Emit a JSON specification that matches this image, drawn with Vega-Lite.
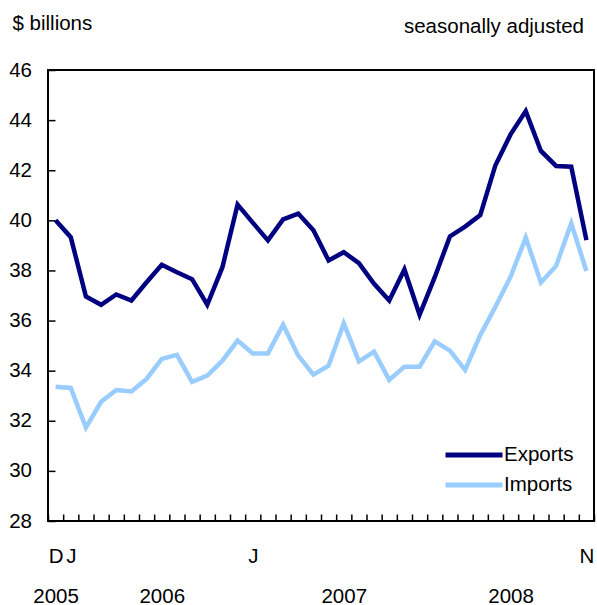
{
  "$schema": "https://vega.github.io/schema/vega-lite/v6.json",
  "autosize": "none",
  "width": 546,
  "height": 451,
  "padding": {"left": 48, "top": 70, "right": 3, "bottom": 84},
  "background": "white",
  "config": {
    "view": {"stroke": "black", "strokeWidth": 2},
    "font": "Liberation Sans",
    "axis": {"grid": false, "domain": false, "ticks": true, "tickColor": "#000000", "tickOpacity": 1, "tickRound": false, "labelColor": "black", "labelFontSize": 20.5, "labelFont": "Liberation Sans", "zindex": 1}
  },
  "title": {
    "text": "seasonally adjusted",
    "anchor": "end",
    "frame": "group",
    "dx": -10,
    "offset": -40,
    "baseline": "alphabetic",
    "fontSize": 20.5,
    "font": "Liberation Sans",
    "fontWeight": "normal",
    "color": "black"
  },
  "data": {
    "values": [
      {"month": "2005-12", "series": "Exports", "value": 40.0},
      {"month": "2006-01", "series": "Exports", "value": 39.33},
      {"month": "2006-02", "series": "Exports", "value": 36.96},
      {"month": "2006-03", "series": "Exports", "value": 36.63},
      {"month": "2006-04", "series": "Exports", "value": 37.04},
      {"month": "2006-05", "series": "Exports", "value": 36.8},
      {"month": "2006-06", "series": "Exports", "value": 37.53},
      {"month": "2006-07", "series": "Exports", "value": 38.23},
      {"month": "2006-08", "series": "Exports", "value": 37.93},
      {"month": "2006-09", "series": "Exports", "value": 37.65},
      {"month": "2006-10", "series": "Exports", "value": 36.63},
      {"month": "2006-11", "series": "Exports", "value": 38.13},
      {"month": "2006-12", "series": "Exports", "value": 40.63},
      {"month": "2007-01", "series": "Exports", "value": 39.91},
      {"month": "2007-02", "series": "Exports", "value": 39.2},
      {"month": "2007-03", "series": "Exports", "value": 40.04},
      {"month": "2007-04", "series": "Exports", "value": 40.27},
      {"month": "2007-05", "series": "Exports", "value": 39.6},
      {"month": "2007-06", "series": "Exports", "value": 38.4},
      {"month": "2007-07", "series": "Exports", "value": 38.73},
      {"month": "2007-08", "series": "Exports", "value": 38.29},
      {"month": "2007-09", "series": "Exports", "value": 37.47},
      {"month": "2007-10", "series": "Exports", "value": 36.8},
      {"month": "2007-11", "series": "Exports", "value": 38.04},
      {"month": "2007-12", "series": "Exports", "value": 36.23},
      {"month": "2008-01", "series": "Exports", "value": 37.73},
      {"month": "2008-02", "series": "Exports", "value": 39.36},
      {"month": "2008-03", "series": "Exports", "value": 39.75},
      {"month": "2008-04", "series": "Exports", "value": 40.21},
      {"month": "2008-05", "series": "Exports", "value": 42.2},
      {"month": "2008-06", "series": "Exports", "value": 43.43},
      {"month": "2008-07", "series": "Exports", "value": 44.36},
      {"month": "2008-08", "series": "Exports", "value": 42.77},
      {"month": "2008-09", "series": "Exports", "value": 42.17},
      {"month": "2008-10", "series": "Exports", "value": 42.14},
      {"month": "2008-11", "series": "Exports", "value": 39.21},
      {"month": "2005-12", "series": "Imports", "value": 33.36},
      {"month": "2006-01", "series": "Imports", "value": 33.31},
      {"month": "2006-02", "series": "Imports", "value": 31.73},
      {"month": "2006-03", "series": "Imports", "value": 32.76},
      {"month": "2006-04", "series": "Imports", "value": 33.23},
      {"month": "2006-05", "series": "Imports", "value": 33.17},
      {"month": "2006-06", "series": "Imports", "value": 33.67},
      {"month": "2006-07", "series": "Imports", "value": 34.47},
      {"month": "2006-08", "series": "Imports", "value": 34.63},
      {"month": "2006-09", "series": "Imports", "value": 33.55},
      {"month": "2006-10", "series": "Imports", "value": 33.8},
      {"month": "2006-11", "series": "Imports", "value": 34.4},
      {"month": "2006-12", "series": "Imports", "value": 35.2},
      {"month": "2007-01", "series": "Imports", "value": 34.69},
      {"month": "2007-02", "series": "Imports", "value": 34.69},
      {"month": "2007-03", "series": "Imports", "value": 35.83},
      {"month": "2007-04", "series": "Imports", "value": 34.6},
      {"month": "2007-05", "series": "Imports", "value": 33.84},
      {"month": "2007-06", "series": "Imports", "value": 34.2},
      {"month": "2007-07", "series": "Imports", "value": 35.89},
      {"month": "2007-08", "series": "Imports", "value": 34.37},
      {"month": "2007-09", "series": "Imports", "value": 34.76},
      {"month": "2007-10", "series": "Imports", "value": 33.63},
      {"month": "2007-11", "series": "Imports", "value": 34.16},
      {"month": "2007-12", "series": "Imports", "value": 34.16},
      {"month": "2008-01", "series": "Imports", "value": 35.17},
      {"month": "2008-02", "series": "Imports", "value": 34.8},
      {"month": "2008-03", "series": "Imports", "value": 34.03},
      {"month": "2008-04", "series": "Imports", "value": 35.42},
      {"month": "2008-05", "series": "Imports", "value": 36.55},
      {"month": "2008-06", "series": "Imports", "value": 37.75},
      {"month": "2008-07", "series": "Imports", "value": 39.31},
      {"month": "2008-08", "series": "Imports", "value": 37.52},
      {"month": "2008-09", "series": "Imports", "value": 38.18},
      {"month": "2008-10", "series": "Imports", "value": 39.88},
      {"month": "2008-11", "series": "Imports", "value": 37.98}
    ]
  },
  "mark": {"type": "line", "strokeWidth": 4.5},
  "encoding": {
    "x": {
      "field": "month",
      "type": "ordinal",
      "bandPosition": 0.5,
      "scale": {"type": "band", "paddingInner": 0, "paddingOuter": 0},
      "axis": {
        "title": null,
        "offset": -7,
        "ticks": true,
        "tickSize": 7,
        "tickWidth": 1.5,
        "tickColor": "#000000",
        "tickBand": "extent",
        "labelAngle": 0,
        "labelAlign": "center",
        "labelBaseline": "top",
        "labelPadding": 25,
        "labelLineHeight": 40,
        "labelOverlap": false,
        "labelFlush": false,
        "labelBound": false,
        "labelExpr": "datum.value == '2005-12' ? ['D','\u00a02005'] : datum.value == '2006-01' ? ['J',''] : datum.value == '2006-07' ? ['','2006\u00a0\u00a0'] : datum.value == '2007-01' ? ['J',''] : datum.value == '2007-07' ? ['','2007\u00a0'] : datum.value == '2008-06' ? ['','2008\u00a0\u00a0'] : datum.value == '2008-11' ? ['N',''] : ''"
      }
    },
    "y": {
      "field": "value",
      "type": "quantitative",
      "scale": {"domain": [28, 46], "nice": false, "zero": false},
      "axis": {
        "title": "$ billions",
        "titleAngle": 0,
        "titleAlign": "left",
        "titleBaseline": "alphabetic",
        "titleAnchor": "end",
        "titleX": -43,
        "titleY": -41,
        "titleFontSize": 20.5,
        "titleFont": "Liberation Sans",
        "titleFontWeight": "normal",
        "titleColor": "black",
        "values": [28, 30, 32, 34, 36, 38, 40, 42, 44, 46],
        "offset": -7,
        "ticks": true,
        "tickSize": 7,
        "tickWidth": 1.5,
        "tickColor": "#000000",
        "labelPadding": 16.5,
        "labelFlush": false,
        "labelOverlap": false
      }
    },
    "color": {
      "field": "series",
      "type": "nominal",
      "scale": {"domain": ["Exports", "Imports"], "range": ["#000080", "#99ccff"]},
      "legend": {
        "title": null,
        "orient": "none",
        "legendX": 395,
        "legendY": 371,
        "symbolType": "stroke",
        "symbolSize": 3249,
        "symbolStrokeWidth": 5,
        "clipHeight": 28,
        "rowPadding": 2,
        "padding": 0,
        "labelOffset": -1,
        "labelFontSize": 20.5,
        "labelFont": "Liberation Sans",
        "labelColor": "black"
      }
    }
  }
}
